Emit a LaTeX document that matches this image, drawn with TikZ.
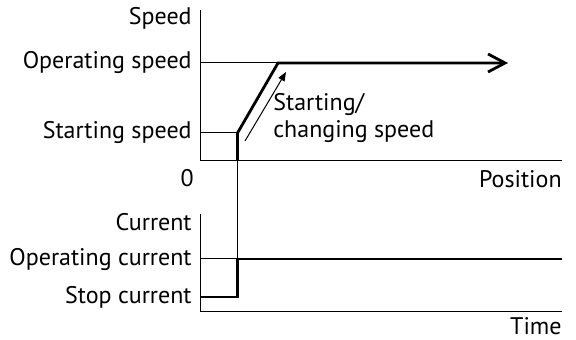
\documentclass[tikz,border=0pt]{standalone}
\usepackage{fontspec}
\setmainfont{PT Sans}
\usetikzlibrary{arrows.meta}

\begin{document}
\begin{tikzpicture}[x=0.5pt,y=-0.5pt,
  thin line/.style={line width=0.5pt},
  thick line/.style={line width=1.4pt},
  lbl/.style={inner sep=0pt,font=\fontsize{12}{13.5}\selectfont}]
\useasboundingbox (0,0) rectangle (576,340);
% speed over position
\draw[thin line] (200,10) -- (200,161) -- (562,161);
\draw[thin line] (200,63) -- (278,63);
\draw[thin line] (200,133) -- (237.5,133);
\draw[thin line] (237.5,133) -- (237.5,259);
\draw[thick line,-{Straight Barb[length=8.5pt,width=9pt]}] (237.5,161) -- (237.5,133) -- (278,63) -- (508,63);
\draw[thin line,-{Triangle[length=4.5pt,width=3.5pt]}] (245,141) -- (286,72);
\node[lbl,anchor=east] (speed) at (192,18) {Speed};
\node[lbl,anchor=east] (opspeed) at (192,63) {Operating speed};
\node[lbl,anchor=east] (stspeed) at (192,133) {Starting speed};
\node[lbl,anchor=east] (zero) at (194,178) {0};
\node[lbl,anchor=east] (position) at (562,179) {Position};
\node[lbl,anchor=west,align=left] (chspeed) at (273,118) {Starting/\\changing speed};
% current over time
\draw[thin line] (200,214) -- (200,312) -- (562,312);
\draw[thin line] (200,259) -- (237.5,259);
\draw[thick line] (200,297) -- (237.5,297) -- (237.5,259) -- (562,259);
\node[lbl,anchor=east] (current) at (192,222) {Current};
\node[lbl,anchor=east] (opcurrent) at (192,260) {Operating current};
\node[lbl,anchor=east] (stopcurrent) at (192,297) {Stop current};
\node[lbl,anchor=east] (time) at (562,326) {Time};
\end{tikzpicture}
\end{document}
